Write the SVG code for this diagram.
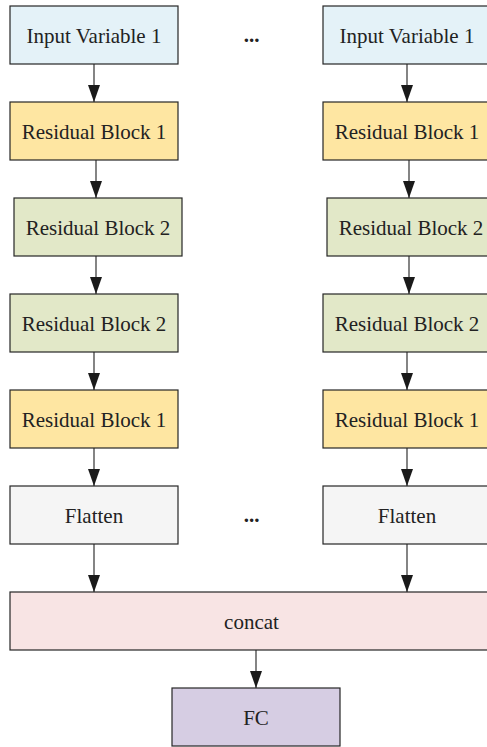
<svg xmlns="http://www.w3.org/2000/svg" width="487" height="747" viewBox="0 0 487 747">
<defs>
<style>
.b{stroke:#262626;stroke-width:1.2}
.t{font-size:21px;fill:#222;text-anchor:middle}
.dots{font-size:21px;font-weight:bold;fill:#222;text-anchor:middle}
.in{fill:#e4f2f8}.r1{fill:#fee6a2}.r2{fill:#e2e8c8}.fl{fill:#f5f5f5}.cc{fill:#f8e4e4}.fc{fill:#d6cde3}
.c{stroke:#333;stroke-width:1.2;fill:none;marker-end:url(#ah)}
</style>
<marker id="ah" viewBox="0 0 17 12" refX="17" refY="6" markerWidth="17" markerHeight="12" markerUnits="userSpaceOnUse" orient="auto">
<path d="M0,0 L17,6 L0,12 Z" fill="#1a1a1a"/>
</marker>
</defs>
<rect width="487" height="747" fill="#ffffff"/>
<g id="connectors">
<line class="c" x1="94" y1="64" x2="94" y2="102"/>
<line class="c" x1="96" y1="160" x2="96" y2="198"/>
<line class="c" x1="96" y1="256" x2="96" y2="294"/>
<line class="c" x1="94" y1="352" x2="94" y2="390"/>
<line class="c" x1="94" y1="448" x2="94" y2="486"/>
<line class="c" x1="94" y1="544" x2="94" y2="592"/>
<line class="c" x1="407" y1="64" x2="407" y2="102"/>
<line class="c" x1="409" y1="160" x2="409" y2="198"/>
<line class="c" x1="409" y1="256" x2="409" y2="294"/>
<line class="c" x1="407" y1="352" x2="407" y2="390"/>
<line class="c" x1="407" y1="448" x2="407" y2="486"/>
<line class="c" x1="407" y1="544" x2="407" y2="592"/>
<line class="c" x1="256" y1="650" x2="256" y2="688"/>
</g>
<g font-family="'Liberation Serif', 'Times New Roman', 'DejaVu Serif', serif">
<g id="input-left"><rect class="b in" x="10" y="6" width="168" height="58"/><text class="t" x="94" y="42.5">Input Variable 1</text></g>
<g id="rb1-left-a"><rect class="b r1" x="10" y="102" width="168" height="58"/><text class="t" x="94" y="138.5">Residual Block 1</text></g>
<g id="rb2-left-a"><rect class="b r2" x="14" y="198" width="168" height="58"/><text class="t" x="98" y="234.5">Residual Block 2</text></g>
<g id="rb2-left-b"><rect class="b r2" x="10" y="294" width="168" height="58"/><text class="t" x="94" y="330.5">Residual Block 2</text></g>
<g id="rb1-left-b"><rect class="b r1" x="10" y="390" width="168" height="58"/><text class="t" x="94" y="426.5">Residual Block 1</text></g>
<g id="flatten-left"><rect class="b fl" x="10" y="486" width="168" height="58"/><text class="t" x="94" y="522.5">Flatten</text></g>
<g id="input-right"><rect class="b in" x="323" y="6" width="168" height="58"/><text class="t" x="407" y="42.5">Input Variable 1</text></g>
<g id="rb1-right-a"><rect class="b r1" x="323" y="102" width="168" height="58"/><text class="t" x="407" y="138.5">Residual Block 1</text></g>
<g id="rb2-right-a"><rect class="b r2" x="327" y="198" width="168" height="58"/><text class="t" x="411" y="234.5">Residual Block 2</text></g>
<g id="rb2-right-b"><rect class="b r2" x="323" y="294" width="168" height="58"/><text class="t" x="407" y="330.5">Residual Block 2</text></g>
<g id="rb1-right-b"><rect class="b r1" x="323" y="390" width="168" height="58"/><text class="t" x="407" y="426.5">Residual Block 1</text></g>
<g id="flatten-right"><rect class="b fl" x="323" y="486" width="168" height="58"/><text class="t" x="407" y="522.5">Flatten</text></g>
<g id="dots-top"><text class="dots" x="251.5" y="42">...</text></g>
<g id="dots-bottom"><text class="dots" x="251.5" y="522">...</text></g>
<g id="concat"><rect class="b cc" x="10" y="592" width="483" height="58"/><text class="t" x="251.5" y="628.5">concat</text></g>
<g id="fc"><rect class="b fc" x="172" y="688" width="168" height="58"/><text class="t" x="256" y="724.5">FC</text></g>
</g>
</svg>
